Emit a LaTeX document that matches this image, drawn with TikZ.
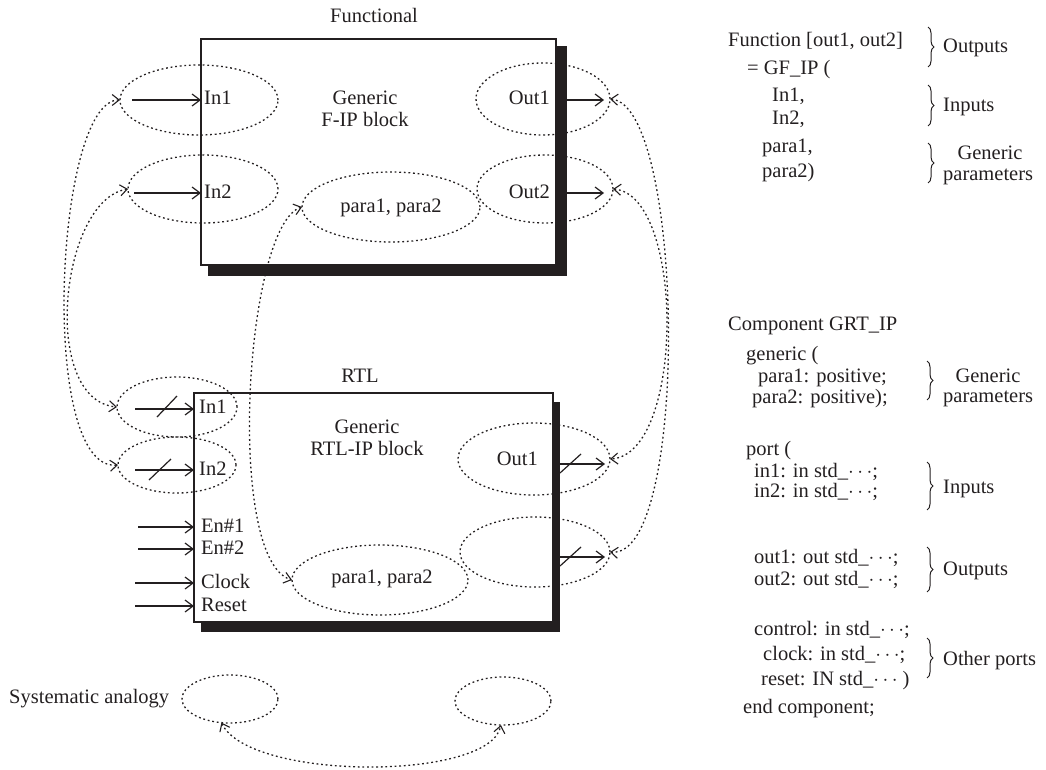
\documentclass[tikz,border=0pt]{standalone}
\usepackage{fontspec}
\setmainfont{Liberation Serif}
\usetikzlibrary{arrows.meta,shapes.geometric,decorations.pathreplacing}
\definecolor{ink}{RGB}{35,31,32}
\begin{document}
\begin{tikzpicture}[x=1pt,y=-1pt,color=ink,
  font=\fontsize{20.5}{24}\selectfont,
  t/.style={inner sep=0pt, anchor=west, text height=14pt, text depth=4pt},
  tc/.style={inner sep=0pt, anchor=center, text height=14pt, text depth=4pt},
  te/.style={inner sep=0pt, anchor=east, text height=14pt, text depth=4pt},
  box/.style={draw=ink, line width=1.4pt, fill=white, rectangle, inner sep=0pt, outer sep=0pt},
  shadowbox/.style={fill=ink, draw=none, rectangle, inner sep=0pt, outer sep=0pt},
  ell/.style={draw=ink, ellipse, inner sep=0pt, outer sep=0pt, line width=1.3pt, dash pattern=on 1.8pt off 2.8pt},
  dotc/.style={draw=ink, line width=1.3pt, dash pattern=on 1.8pt off 2.8pt,
    {Straight Barb[length=7pt,width=11pt,line width=1.1pt]}-{Straight Barb[length=7pt,width=11pt,line width=1.1pt]}},
  sarr/.style={draw=ink, line width=1.2pt, -{Straight Barb[length=8pt,width=12pt,line width=1.2pt]}},
  slashline/.style={draw=ink, line width=1.2pt},
  brc/.style={draw=ink, line width=1pt, decorate, decoration={brace, amplitude=6pt}}
]
\useasboundingbox (0,0) rectangle (1046,770);

% ---------- Functional block ----------
\node[shadowbox, minimum width=359pt, minimum height=230pt] (fshadow) at (387.5,161) {};
\node[box, minimum width=355pt, minimum height=226pt] (fbox) at (378.5,152) {};
\node[tc] (ftitle) at (374,18) {Functional};
\node[tc] (fgen1) at (365,100) {Generic};
\node[tc] (fgen2) at (365,122) {F-IP block};
\node[t] (fin1t) at (204,100) {In1};
\node[t] (fin2t) at (204,193) {In2};
\node[te] (fout1t) at (550,100) {Out1};
\node[te] (fout2t) at (550,193) {Out2};
\node[tc] (fpart) at (391,207) {para1, para2};

% ---------- RTL block ----------
\node[shadowbox, minimum width=359pt, minimum height=230pt] (rshadow) at (380.5,517) {};
\node[box, minimum width=359pt, minimum height=229pt] (rbox) at (373.5,507.5) {};
\node[tc] (rtitle) at (360,377) {RTL};
\node[tc] (rgen1) at (367,428) {Generic};
\node[tc] (rgen2) at (367,450) {RTL-IP block};
\node[t] (rin1t) at (199,408) {In1};
\node[t] (rin2t) at (199,470) {In2};
\node[t] (ren1t) at (201,527) {En\#1};
\node[t] (ren2t) at (201,549) {En\#2};
\node[t] (rclkt) at (201,583) {Clock};
\node[t] (rrstt) at (201,606) {Reset};
\node[te] (rout1t) at (538,460) {Out1};
\node[tc] (rpart) at (382,578) {para1, para2};

% ---------- ellipses ----------
\node[ell, minimum width=158pt, minimum height=70pt] (fin1) at (199,100) {};
\node[ell, minimum width=150pt, minimum height=68pt] (fin2) at (203,189) {};
\node[ell, minimum width=178pt, minimum height=70pt] (fpar) at (391,207) {};
\node[ell, minimum width=134pt, minimum height=72pt] (fout1) at (543,99) {};
\node[ell, minimum width=136pt, minimum height=68pt] (fout2) at (545,189) {};
\node[ell, minimum width=120pt, minimum height=60pt] (rin1) at (177,407) {};
\node[ell, minimum width=118pt, minimum height=56pt] (rin2) at (177,465) {};
\node[ell, minimum width=176pt, minimum height=70pt] (rpar) at (380,580) {};
\node[ell, minimum width=152pt, minimum height=72pt] (rout1) at (534,459) {};
\node[ell, minimum width=150pt, minimum height=70pt] (rout2) at (535,552) {};
\node[ell, minimum width=96pt, minimum height=48pt] (sa1) at (230,699) {};
\node[ell, minimum width=96pt, minimum height=48pt] (sa2) at (503,701) {};
\node[t] (satext) at (9,698) {Systematic analogy};

% ---------- solid arrows ----------
\coordinate (a1) at (132,100);
\coordinate (a2) at (134,193);
\draw[sarr] (a1) -- (a1 -| fbox.west);
\draw[sarr] (a2) -- (a2 -| fbox.west);
\coordinate (o1s) at (567,100);
\coordinate (o1e) at (604,100);
\coordinate (o2s) at (567,193);
\coordinate (o2e) at (604,193);
\draw[sarr] (o1s) -- (o1e);
\draw[sarr] (o2s) -- (o2e);

\coordinate (b1) at (135,409);
\coordinate (b2) at (135,470);
\coordinate (b3) at (138,527);
\coordinate (b4) at (138,549);
\coordinate (b5) at (135,583);
\coordinate (b6) at (135,606);
\foreach \c in {b1,b2,b3,b4,b5,b6} \draw[sarr] (\c) -- (\c -| rbox.west);
\draw[slashline] (157,417) -- (177,396);
\draw[slashline] (149,480) -- (171,459);
\coordinate (ro1s) at (560,464);
\coordinate (ro1e) at (605,464);
\coordinate (ro2s) at (560,557);
\coordinate (ro2e) at (605,557);
\draw[sarr] (ro1s) -- (ro1e);
\draw[sarr] (ro2s) -- (ro2e);
\draw[slashline] (560,473) -- (581,454);
\draw[slashline] (560,566) -- (581,547);

% ---------- dotted connectors ----------
\draw[dotc] (fin1.west) .. controls (55,100) and (38,472) .. (rin2.west);
\draw[dotc] (fin2.west) .. controls (60,200) and (40,400) .. (rin1.west);
\draw[dotc] (fpar.west) .. controls (245,225) and (225,560) .. (rpar.west);
\draw[dotc] (fout1.east) .. controls (685,105) and (690,560) .. (rout2.east);
\draw[dotc] (fout2.east) .. controls (685,195) and (685,455) .. (rout1.east);
\draw[dotc] (sa1.250) .. controls (250,781) and (490,781) .. (sa2.265);

% ---------- right column: function ----------
\node[t] (l1) at (728,42) {Function [out1, out2]};
\node[t] (l2) at (747,70) {= GF\_IP (};
\node[t] (l3) at (772,97) {In1,};
\node[t] (l4) at (772,120) {In2,};
\node[t] (l5) at (762,148) {para1,};
\node[t] (l6) at (762,173) {para2)};
\draw[brc] (928,27) -- (928,67);
\draw[brc] (928,85) -- (928,126);
\draw[brc] (928,143) -- (928,183);
\node[t] (lo) at (943,48) {Outputs};
\node[t] (li) at (943,107) {Inputs};
\node[tc] (lg1) at (990,155) {Generic};
\node[t] (lg2) at (943,176) {parameters};

% ---------- right column: component ----------
\node[t] (c1) at (728,325) {Component GRT\_IP};
\node[t] (c2) at (746,355) {generic (};
\node[t] (c3) at (758,377) {para1: positive;};
\node[t] (c4) at (752,398) {para2: positive);};
\node[t] (c5) at (746,450) {port (};
\node[t] (c6) at (754,472) {in1: in std\_$\cdots$;};
\node[t] (c7) at (754,492) {in2: in std\_$\cdots$;};
\node[t] (c8) at (754,558) {out1: out std\_$\cdots$;};
\node[t] (c9) at (754,580) {out2: out std\_$\cdots$;};
\node[t] (c10) at (754,630) {control: in std\_$\cdots$;};
\node[t] (c11) at (763,655) {clock: in std\_$\cdots$;};
\node[t] (c12) at (761,680) {reset: IN std\_$\cdots$ )};
\node[t] (c13) at (743,708) {end component;};
\draw[brc] (927,361) -- (927,400);
\draw[brc] (927,462) -- (927,510);
\draw[brc] (927,547) -- (927,592);
\draw[brc] (927,638) -- (927,678);
\node[tc] (cg1) at (988,377) {Generic};
\node[t] (cg2) at (943,397) {parameters};
\node[t] (ci) at (943,488) {Inputs};
\node[t] (co) at (943,570) {Outputs};
\node[t] (cp) at (943,660) {Other ports};
\end{tikzpicture}
\end{document}
